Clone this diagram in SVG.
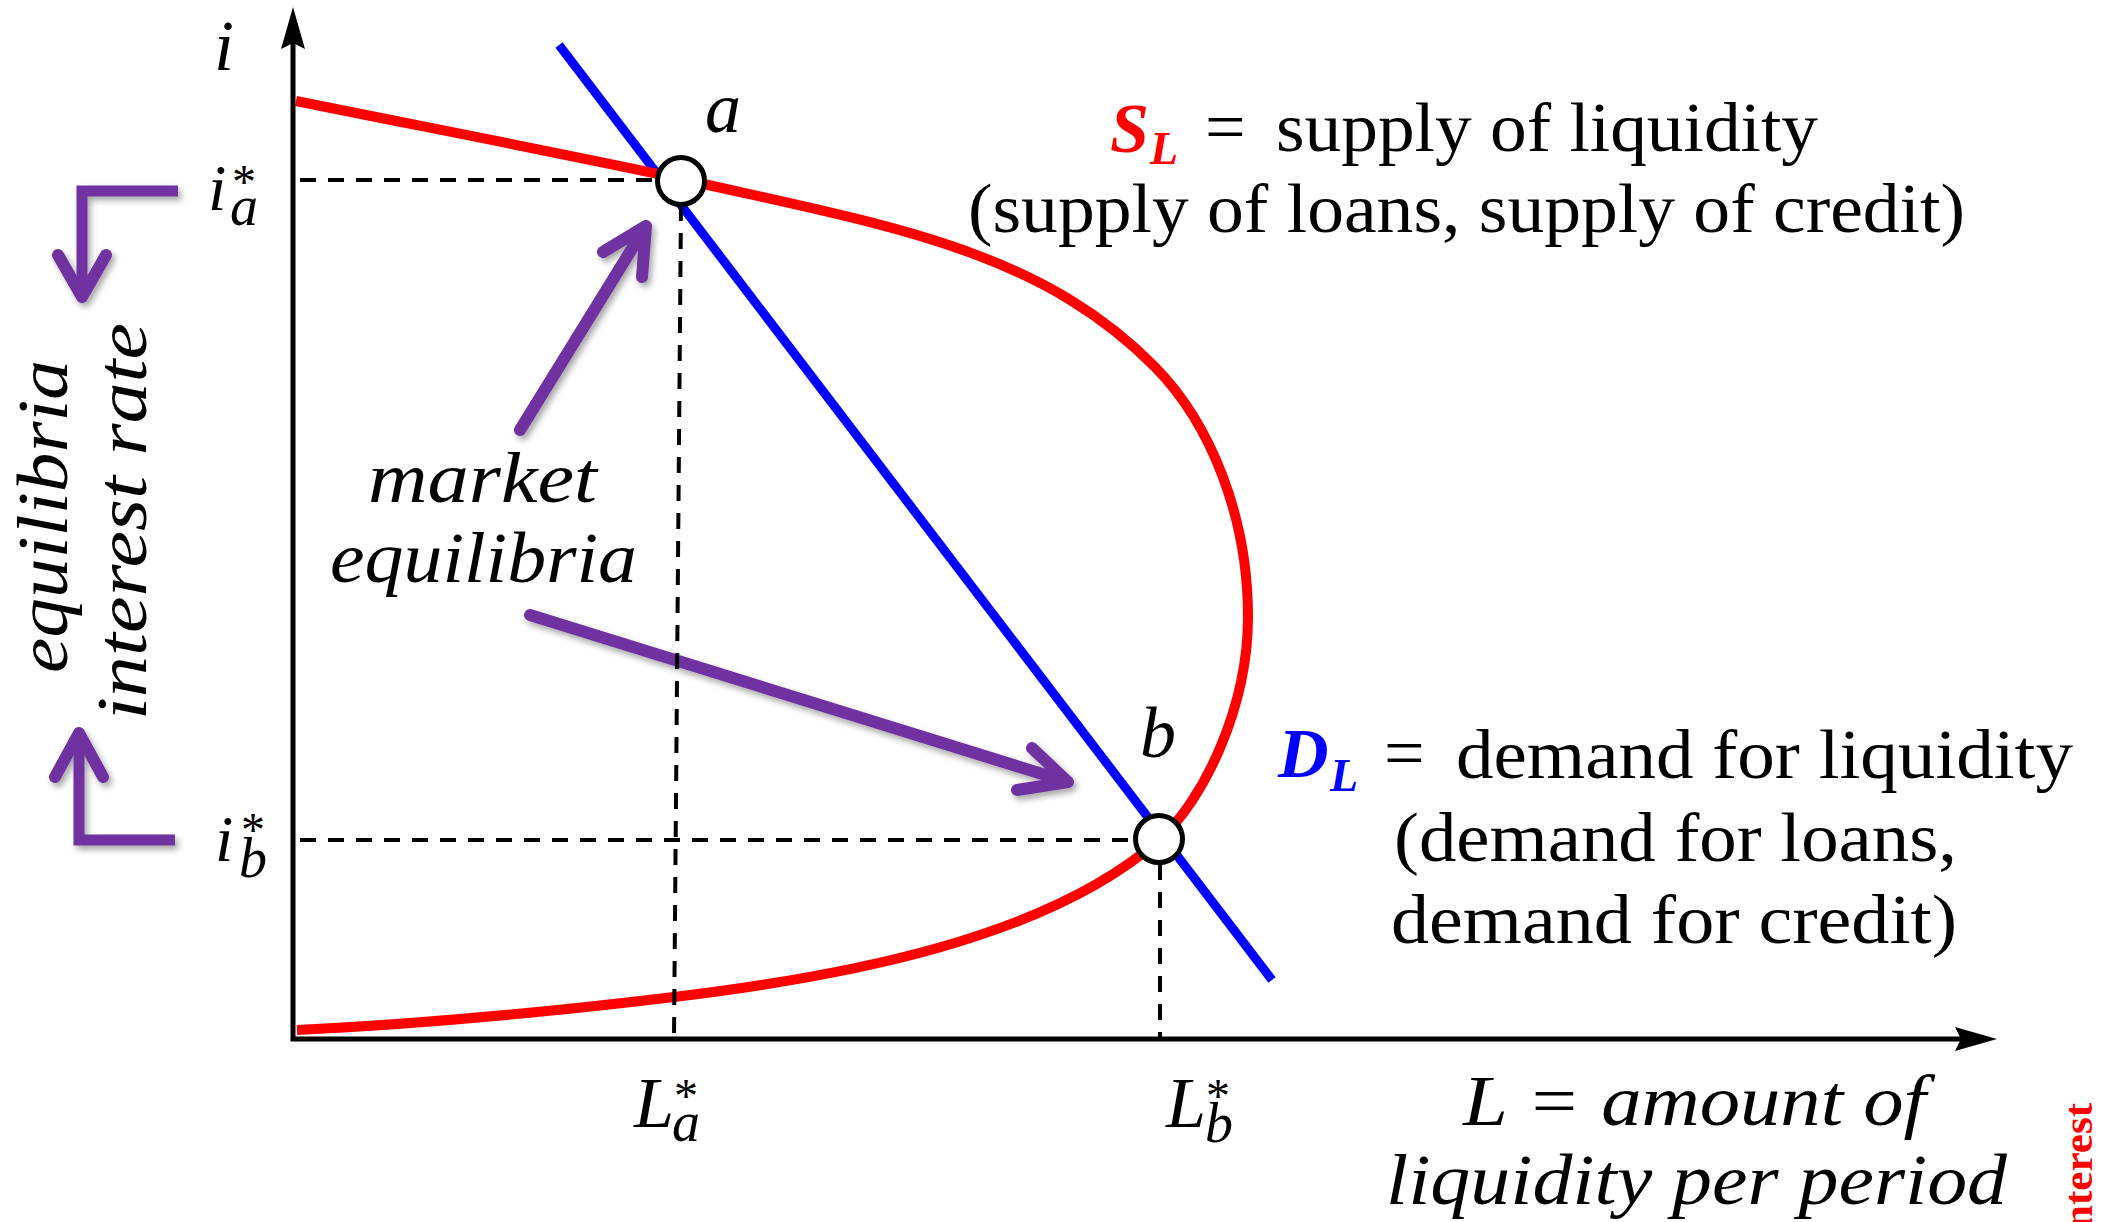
<svg xmlns="http://www.w3.org/2000/svg" width="2110" height="1222" viewBox="0 0 2110 1222">
<defs>
<style>
.m{font-family:"Liberation Serif",serif;font-style:italic;fill:#000}
.u{font-family:"Liberation Serif",serif;fill:#000}
.st{font-style:normal;font-size:48px}
.pu{stroke:#7030A0;stroke-width:12;fill:none;stroke-linecap:round;stroke-linejoin:round}
.pb{stroke:#7030A0;stroke-width:11;fill:none;stroke-linecap:butt;stroke-linejoin:miter}
.dash{stroke:#000;stroke-width:4;stroke-dasharray:16 12;fill:none}
.pt{fill:#fff;stroke:#000;stroke-width:5}
</style>
<filter id="sh" x="-30%" y="-30%" width="160%" height="160%">
<feDropShadow dx="3" dy="4" stdDeviation="3" flood-color="#000" flood-opacity="0.35"/>
</filter>
</defs>
<rect width="2110" height="1222" fill="#fff"/>

<g id="curves">
<path id="demand-curve" d="M559,45 L1272,980" stroke="#0000FF" stroke-width="9" fill="none"/>
<path id="supply-curve" d="M296,101 C425,127 555,152 682,179 C877,224 1036,246 1155,367 C1211,424 1248,517 1248,617 C1248,707 1204,800 1159,840 C1046.5,939 843,976.6 674,997 C550,1012 417,1024 297,1030" stroke="#FF0000" stroke-width="10" fill="none"/>
</g>

<g id="connectors">
<g filter="url(#sh)">
<path class="pu" d="M520,430 L646,226 M603,252 L646,226 L642,277"/>
<path class="pu" d="M530,615 L1068,782 M1032,748 L1068,782 L1017,790"/>
<path class="pb" d="M178,191 H82 V290"/>
<path class="pu" d="M58,255 L82,297 L106,255"/>
<path class="pb" d="M175,840 H79 V740"/>
<path class="pu" d="M55,777 L79,733 L103,777"/>
</g>
<path class="dash" d="M300,180 H668"/>
<path class="dash" d="M681,205 L674,1037"/>
<path class="dash" d="M300,840 H1148"/>
<path class="dash" d="M1160,864 V1037"/>
</g>

<g id="axes">
<path d="M293,42 V1039 H1962" stroke="#000" stroke-width="5" fill="none" stroke-linejoin="miter"/>
<path d="M293,7 L281,49 L293,43 L305,49 Z" fill="#000"/>
<path d="M1997,1039 L1955,1027 L1961,1039 L1955,1051 Z" fill="#000"/>
<text class="m" x="214" y="70" font-size="72">i</text>
</g>

<g id="point-a">
<circle class="pt" cx="681" cy="181" r="23.5"/>
<text class="m" x="705" y="132" font-size="72">a</text>
</g>

<g id="point-b">
<circle class="pt" cx="1159" cy="839" r="23.5"/>
<text class="m" x="1140" y="757" font-size="72">b</text>
</g>

<g id="label-ia">
<text class="m" x="208" y="210" font-size="66">i<tspan class="st" x="232" y="198">*</tspan><tspan font-size="56" x="230" y="225">a</tspan></text>
</g>
<g id="label-ib">
<text class="m" x="215" y="861" font-size="66">i<tspan class="st" x="241" y="846">*</tspan><tspan font-size="56" x="239" y="877">b</tspan></text>
</g>
<g id="label-La">
<text class="m" x="634" y="1127" font-size="72">L<tspan class="st" x="674" y="1112">*</tspan><tspan font-size="56" x="672" y="1141">a</tspan></text>
</g>
<g id="label-Lb">
<text class="m" x="1166" y="1127" font-size="72">L<tspan class="st" x="1206" y="1112">*</tspan><tspan font-size="56" x="1205" y="1142">b</tspan></text>
</g>

<g id="label-yaxis-title">
<text class="m" font-size="72" transform="translate(67,673) rotate(-90)" textLength="313" lengthAdjust="spacingAndGlyphs">equilibria</text>
<text class="m" font-size="72" transform="translate(146,720) rotate(-90)" textLength="397" lengthAdjust="spacingAndGlyphs">interest rate</text>
</g>

<g id="label-market">
<text class="m" x="368" y="502" font-size="72" textLength="229" lengthAdjust="spacingAndGlyphs">market</text>
<text class="m" x="330" y="582" font-size="72" textLength="307" lengthAdjust="spacingAndGlyphs">equilibria</text>
</g>

<g id="label-xaxis-title">
<text class="m" x="1463" y="1125" font-size="72" textLength="463" lengthAdjust="spacingAndGlyphs">L = amount of</text>
<text class="m" x="1386" y="1204" font-size="72" textLength="621" lengthAdjust="spacingAndGlyphs">liquidity per period</text>
</g>

<g id="label-supply">
<text class="m" x="1110" y="152" font-size="70" font-weight="bold" style="fill:#FF0000">S<tspan font-size="46" x="1150" y="164">L</tspan></text>
<text class="u" x="1205" y="151" font-size="72">=</text>
<text class="u" x="1276" y="151" font-size="70" textLength="542" lengthAdjust="spacingAndGlyphs">supply of liquidity</text>
<text class="u" x="968" y="232" font-size="70" textLength="997" lengthAdjust="spacingAndGlyphs">(supply of loans, supply of credit)</text>
</g>

<g id="label-demand">
<text class="m" x="1278" y="777" font-size="70" font-weight="bold" style="fill:#0000FF">D<tspan font-size="46" x="1330" y="791">L</tspan></text>
<text class="u" x="1384" y="777" font-size="72">=</text>
<text class="u" x="1456" y="778" font-size="70" textLength="617" lengthAdjust="spacingAndGlyphs">demand for liquidity</text>
<text class="u" x="1394" y="861" font-size="70" textLength="563" lengthAdjust="spacingAndGlyphs">(demand for loans,</text>
<text class="u" x="1391" y="943" font-size="70" textLength="566" lengthAdjust="spacingAndGlyphs">demand for credit)</text>
</g>

<g id="label-edge">
<text class="u" font-size="40" font-weight="bold" style="fill:#FF0000" transform="translate(2092,1229) rotate(-90)" textLength="126" lengthAdjust="spacingAndGlyphs">nterest</text>
</g>
</svg>
